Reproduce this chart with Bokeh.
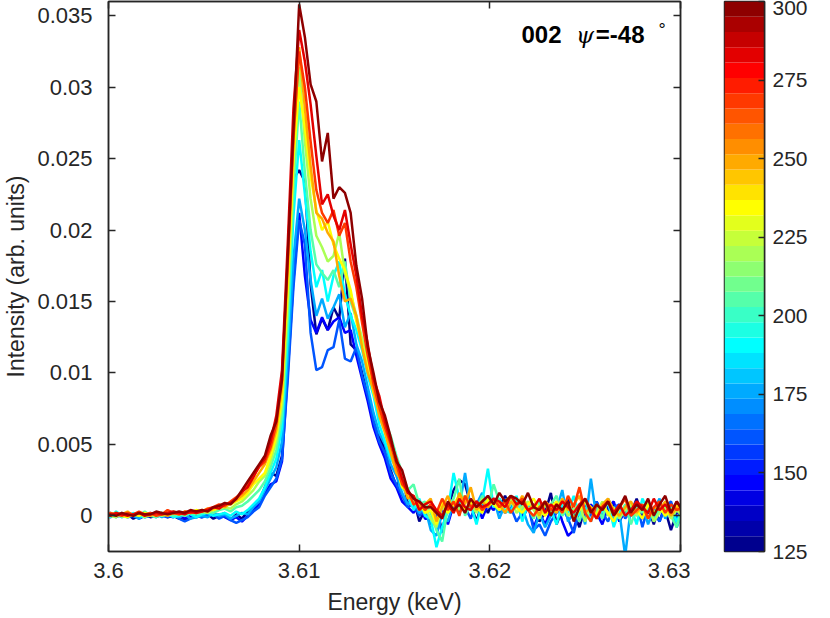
import numpy as np
from bokeh.plotting import figure
from bokeh.models import FixedTicker, LinearAxis, Label, Range1d
from bokeh.layouts import row
from bokeh.embed import file_html
from bokeh.resources import INLINE

# ---- data (intensity in units of 1e-4 arb. units), energy grid start/step in keV
E_START = 3.5998
E_STEP = 0.0003
temps = [125, 145, 160, 175, 190, 205, 220, 235, 250, 270, 285, 300]

I_125 = [1, -1, 2, 0, 1, -2, 0, 1, -1, 0, 2, -1, 0, -2, -3, -1, 0,
         -1, 1, -2, 0, 2, -3, 1, -2, 3, 6, 10,
         20, 30, 28, 42, 112, 236, 242, 234, 162, 127, 138, 130, 146, 138, 180, 120, 116, 100, 84, 66, 56, 46, 32, 20, 30, 8, 12, -4, 4,
         -6, 4, -10, 6, 18, 25, 22, 8, -4, 10, 2, 12, 6, 14, 4, 10, -2, 6, 8, -4, 2, 16, -6, 4, 12, 2, -8, 6, 0, 10, -2, 4, 8, -4, 6, 2, 12, 0, 6, -6, 8, 4, -10, 2, 6]
I_145 = [0, 2, -1, 1, 0, 1, -2, 0, 2, -1, 1, 0, -1, 1, -2, 0, -1,
         0, 1, 0, 1, -1, -3, -1, -4, 0, 4, 8,
         16, 22, 24, 38, 100, 165, 212, 168, 137, 128, 139, 130, 136, 139, 128, 130, 112, 96, 80, 62, 50, 40, 26, 20, 10, 6, 2, 8, -2,
         -2, -8, 4, -6, 8, 2, 14, 6, 10, -2, 8, 4, 12, 2, 6, 10, 0, 8, -8, 2, -6, 4, 10, -4, -14, -10, 6, 0, 8, 2, -6, 6, 10, -4, 4, 0, 8, -2, 2, 6, -4, 8, 0, 4, -2]
I_160 = [-1, 1, 0, 2, -1, 0, 1, -1, 0, 2, 0, -1, 1, -2, -4, -2, 0,
         -1, 0, 1, -2, 0, -3, -5, -3, -1, 3, 6,
         14, 20, 26, 40, 95, 160, 207, 190, 128, 102, 104, 116, 118, 137, 110, 108, 118, 98, 84, 66, 52, 44, 30, 22, 14, 6, 8, 0, 4,
         -4, 2, -12, 8, 4, 12, 6, -2, 10, 4, 14, 8, 2, 12, 6, -4, 2, 8, -10, -6, -14, -4, 2, 6, -2, -12, 4, 8, 0, 10, 2, -4, 6, 8, -2, 4, 10, -8, 6, 2, -4, 6, 10, -2, 4]
I_175 = [2, 0, 1, -1, 2, 0, -2, 1, 0, 1, -1, 2, 0, -1, 1, -2, -1,
         0, -1, 2, 0, 1, -2, 0, 2, 1, 6, 10,
         18, 26, 34, 52, 110, 180, 222, 200, 165, 140, 152, 138, 146, 155, 132, 142, 120, 108, 90, 72, 58, 50, 36, 28, 16, 8, 12, 2, 6,
         -10, -14, 2, -4, 10, 6, 30, 4, 8, 16, 6, 12, -2, 8, 4, 10, 6, -6, -12, 2, -8, 0, 4, 18, -4, 2, 8, -6, 26, -2, 4, 10, -4, 2, -28, 6, 0, 8, -6, 4, 12, -2, 6, -8, 2]
I_190 = [1, -1, 3, 0, -1, 2, 0, -1, 1, 0, 2, 1, -1, 0, 2, 1, -1,
         1, 2, 0, 1, 2, 0, 3, 1, 4, 8, 12,
         20, 30, 40, 62, 125, 210, 263, 225, 185, 160, 172, 150, 168, 178, 155, 140, 130, 116, 98, 84, 64, 52, 40, 34, 20, 14, 4, 12, 0,
         -2, -22, -8, 4, 30, 12, 2, 8, -6, 10, 33, 6, 12, 4, 2, 14, -4, 8, 6, -2, 10, 4, -6, 8, 2, 14, 0, 6, -4, 8, 2, 10, -8, 4, 0, 6, -6, 12, 4, -2, 8, 0, 6, -4, 4]
I_205 = [0, 2, 1, -1, 2, 1, 0, 3, 0, -1, 1, 2, 0, 1, 0, 2, 1,
         2, 3, 2, 4, 5, 3, 6, 7, 10, 14, 18,
         24, 34, 46, 70, 138, 228, 290, 240, 200, 176, 170, 165, 172, 160, 178, 150, 138, 122, 106, 92, 78, 66, 56, 42, 30, 18, 22, 8, 10,
         2, -10, -18, 6, 12, 26, 0, 8, 4, 14, 6, 22, 10, 2, 8, 12, 4, 6, -2, 10, 2, 8, 14, 0, 6, 4, -4, 10, 2, 8, -2, 12, 4, 0, 8, -6, 6, 2, 10, -4, 4, 8, 0, -8, 6]
I_220 = [1, 0, -1, 2, 0, 1, 2, -1, 1, 2, 0, 1, 3, 2, 1, 3, 2,
         3, 2, 4, 5, 6, 5, 8, 10, 14, 18, 24,
         28, 38, 52, 78, 150, 245, 314, 262, 222, 196, 188, 178, 182, 198, 170, 156, 140, 124, 108, 90, 74, 64, 50, 38, 26, 14, 12, 4, 6,
         -2, -8, 6, 2, 10, 4, 14, 8, 2, 12, 6, 10, 4, 8, 12, 2, 6, 10, 4, -2, 8, 2, 6, 12, 0, 4, 8, -4, 6, 2, 10, 0, 6, -2, 4, 8, 0, 6, 10, -4, 2, 6, -2, 4, 0]
I_235 = [0, 1, 2, 0, -1, 1, 0, 2, 1, 0, 2, 1, 2, 1, 3, 2, 4,
         3, 5, 4, 6, 7, 8, 10, 12, 16, 22, 26,
         30, 42, 56, 84, 160, 250, 300, 272, 238, 214, 200, 206, 190, 180, 172, 158, 136, 120, 104, 86, 72, 60, 46, 34, 20, 16, 8, 10, 2,
         4, -6, 10, 2, 8, 14, 4, 10, 6, 2, 12, 8, 4, 10, 14, 6, 2, 8, 12, 4, 0, 6, 10, 2, 8, -2, 4, 10, 6, 0, 8, 2, -4, 6, 12, 2, 4, -2, 8, 2, 6, 0, 4, 8, 2]
I_250 = [1, 0, 2, 1, 3, 0, 2, 1, 0, 2, 1, 0, 2, 1, 2, 3, 2,
         4, 3, 5, 7, 6, 9, 11, 14, 18, 24, 30,
         36, 46, 60, 90, 172, 262, 328, 285, 245, 212, 208, 198, 192, 168, 150, 152, 140, 118, 100, 88, 70, 58, 44, 30, 24, 12, 14, 6, 8,
         12, -4, 6, 14, 2, 16, 8, 20, 4, 10, 6, 12, 8, 2, 10, 6, 14, 4, 8, 0, 10, 6, 2, 12, 4, 8, 14, 2, 6, -2, 8, 12, 4, 0, 6, 10, 2, 8, -2, 6, 4, 10, 0, 6, 2]
I_270 = [0, 2, 1, 0, 2, 1, 3, 1, 2, 0, 1, 4, 2, 1, 3, 2, 3,
         3, 5, 6, 8, 7, 10, 13, 16, 22, 28, 34,
         38, 48, 64, 98, 178, 265, 325, 300, 262, 228, 212, 205, 214, 196, 205, 178, 160, 135, 112, 92, 76, 62, 50, 36, 22, 18, 8, 10, 4,
         8, 2, 12, 4, 10, 0, 14, 6, 10, 4, 8, 12, 6, 10, 2, 8, 12, 4, 0, 6, 10, 4, 8, 2, 14, 6, 20, 2, -4, 8, 4, 10, 2, 6, 12, 0, 4, 8, -2, 6, 10, 2, 8, 4, 6]
I_285 = [1, 0, 2, 1, 0, 1, 2, 0, 1, 2, 1, 2, 3, 2, 1, 3, 2,
         3, 4, 6, 5, 8, 9, 12, 17, 20, 27, 35,
         40, 52, 70, 102, 190, 285, 340, 318, 288, 252, 218, 225, 210, 200, 214, 190, 168, 140, 120, 96, 84, 66, 52, 40, 26, 16, 14, 4, 8,
         10, 4, 0, 8, 2, 12, 6, 4, 10, 6, 8, 12, 10, 6, 14, 8, 10, 4, 6, 12, 2, 8, 4, 10, 6, 2, 8, 12, 4, -2, 6, 10, 2, 8, 0, 4, 10, 6, 2, 12, 4, 8, 2, 10, 4]
I_300 = [0, 1, 0, 2, 1, 0, 2, 1, 1, 3, 2, 1, 2, 3, 2, 4, 3,
         4, 3, 6, 7, 9, 8, 12, 18, 24, 30, 36,
         42, 56, 66, 95, 181, 270, 358, 335, 302, 290, 248, 268, 222, 230, 226, 212, 175, 152, 118, 100, 80, 70, 55, 38, 32, 18, 12, 10, 6,
         6, 2, -2, 10, 4, 8, 2, 12, 6, 10, 14, 8, 16, 10, 14, 12, 8, 16, 6, 4, 10, 0, 8, 4, 10, -4, 6, 12, 2, 8, 4, 10, 0, 6, 14, 2, 8, 4, 12, 0, 8, 14, 2, 10, 4]

series = [I_125, I_145, I_160, I_175, I_190, I_205, I_220, I_235, I_250, I_270, I_285, I_300]

x_ticks = [3.6, 3.61, 3.62, 3.63]
x_tick_labels = ["3.6", "3.61", "3.62", "3.63"]
y_ticks = [0, 0.005, 0.01, 0.015, 0.02, 0.025, 0.03, 0.035]
y_tick_labels = ["0", "0.005", "0.01", "0.015", "0.02", "0.025", "0.03", "0.035"]
cb_ticks = [125, 150, 175, 200, 225, 250, 275, 300]
T_MIN, T_MAX, T_STEP = 125, 300, 5


def jet(m):
    n = int(np.ceil(m / 4))
    u = np.concatenate([np.arange(1, n + 1) / n, np.ones(n - 1), np.arange(n, 0, -1) / n])
    g = int(np.ceil(n / 2)) - (1 if m % 4 == 1 else 0) + np.arange(1, len(u) + 1)
    r = g + n
    b = g - n
    cmap = np.zeros((m, 3))
    for ch, idx in ((0, r), (1, g), (2, b)):
        mask = (idx >= 1) & (idx <= m)
        cmap[idx[mask] - 1, ch] = u[mask]
    return ["#%02x%02x%02x" % tuple(int(round(c * 255)) for c in rowc) for rowc in cmap]


n_col = (T_MAX - T_MIN) // T_STEP + 1
palette = jet(n_col)

AX = "#262626"
FONT = "Liberation Sans"

p = figure(frame_width=572, frame_height=550, x_range=Range1d(3.6, 3.63),
           y_range=Range1d(-0.0025, 0.036), output_backend="svg", toolbar_location=None,
           min_border_left=101, min_border_right=10, min_border_top=1, min_border_bottom=60)
p.xgrid.visible = False
p.ygrid.visible = False
p.outline_line_color = AX
p.outline_line_width = 1.5
p.background_fill_color = "white"
p.border_fill_color = "white"

for T, vals in zip(temps, series):
    y = np.array(vals, dtype=float) * 1e-4
    x = E_START + E_STEP * np.arange(len(y))
    p.line(x, y, line_color=palette[(T - T_MIN) // T_STEP], line_width=2.5)

xt = FixedTicker(ticks=x_ticks)
yt = FixedTicker(ticks=y_ticks)
p.xaxis.ticker = xt
p.yaxis.ticker = yt
p.xaxis.major_label_overrides = dict(zip(x_ticks, x_tick_labels))
p.yaxis.major_label_overrides = dict(zip(y_ticks, y_tick_labels))
for ax in (p.xaxis[0], p.yaxis[0]):
    ax.major_tick_in = 7
    ax.major_tick_out = 0
    ax.minor_tick_line_color = None
    ax.axis_line_color = AX
    ax.axis_line_width = 1.5
    ax.major_tick_line_color = AX
    ax.major_tick_line_width = 1.5
    ax.major_label_text_color = AX
    ax.major_label_text_font = FONT
    ax.major_label_text_font_size = "22px"
    ax.axis_label_text_color = AX
    ax.axis_label_text_font = FONT
    ax.axis_label_text_font_size = "23px"
    ax.axis_label_text_font_style = "normal"
p.xaxis.axis_label = "Energy (keV)"
p.yaxis.axis_label = "Intensity (arb. units)"
p.xaxis.major_label_standoff = 11
p.xaxis.axis_label_standoff = 8
p.yaxis.major_label_standoff = 16
p.yaxis.axis_label_standoff = 5

for loc, tk in (("above", xt), ("right", yt)):
    ax = LinearAxis(ticker=tk, major_tick_in=7, major_tick_out=0, minor_tick_line_color=None,
                    axis_line_color=AX, axis_line_width=1.5, major_tick_line_color=AX,
                    major_tick_line_width=1.5, major_label_standoff=0,
                    major_label_text_font_size="0px",
                    major_label_overrides={t: "" for t in tk.ticks})
    p.add_layout(ax, loc)

# annotation
p.add_layout(Label(x=3.62166, y=0.03369, text="002", text_font=FONT, text_font_style="bold",
                   text_font_size="24px", text_color="black", text_baseline="alphabetic"))
p.add_layout(Label(x=3.62452, y=0.03369, text="\u03c8", text_font="DejaVu Serif", text_font_style="italic",
                   text_font_size="23px", text_color="black", text_baseline="alphabetic"))
p.add_layout(Label(x=3.62556, y=0.03369, text="=-48", text_font=FONT, text_font_style="bold",
                   text_font_size="24px", text_color="black", text_baseline="alphabetic"))
p.add_layout(Label(x=3.62885, y=0.03400, text="\u00b0", text_font=FONT,
                   text_font_size="18px", text_color="black", text_baseline="alphabetic"))

# colorbar
edges = np.linspace(T_MIN, T_MAX, n_col + 1)
cb = figure(frame_width=40, frame_height=550, x_range=Range1d(0, 1), y_range=Range1d(T_MIN, T_MAX),
            output_backend="svg", toolbar_location=None, x_axis_location=None, y_axis_location="right",
            min_border_left=34, min_border_right=10, min_border_top=1, min_border_bottom=15)
cb.xgrid.visible = False
cb.ygrid.visible = False
cb.quad(left=0, right=1, bottom=edges[:-1], top=edges[1:], fill_color=palette, line_color=None)
cb.outline_line_color = AX
cb.outline_line_width = 1.5
cax = cb.yaxis[0]
cax.ticker = FixedTicker(ticks=cb_ticks)
cax.major_tick_in = 6
cax.major_tick_out = 0
cax.minor_tick_line_color = None
cax.axis_line_color = AX
cax.axis_line_width = 1.5
cax.major_tick_line_color = AX
cax.major_tick_line_width = 1.5
cax.major_label_text_color = AX
cax.major_label_text_font = FONT
cax.major_label_text_font_size = "21px"
cax.major_label_standoff = 8

layout = row(p, cb)

open("out.html", "w").write(file_html(layout, INLINE))
